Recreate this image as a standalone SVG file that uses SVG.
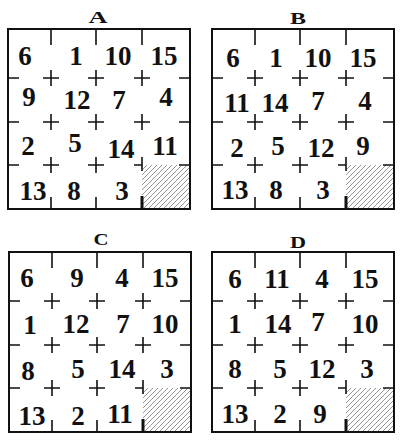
<svg xmlns="http://www.w3.org/2000/svg" xmlns:xlink="http://www.w3.org/1999/xlink" width="400" height="445" viewBox="0 0 400 445">
<style>
.n{font-family:"Liberation Serif","DejaVu Serif",serif;font-size:27px;font-weight:bold;fill:#111;text-anchor:middle}
.t{font-family:"Liberation Serif","DejaVu Serif",serif;font-size:16px;font-weight:bold;fill:#111;text-anchor:middle}
.b{fill:none;stroke:#111;stroke-width:2}
.k{stroke:#111;stroke-width:1.6;fill:none}
.h{fill:url(#hatch);stroke:none}
</style>
<defs>
<pattern id="hatch" patternUnits="userSpaceOnUse" width="5" height="5">
<path d="M-1,1 L1,-1 M0,5 L5,0 M4,6 L6,4" stroke="#888" stroke-width="0.9"/>
</pattern>
<g id="grid">
<rect class="h" x="134" y="136" width="48" height="44"/>
<rect class="b" x="0" y="0" width="182" height="180"/>
<path class="k" d="M43,0 v16 M88,0 v16 M134,0 v16 M43,180 v-12 M88,180 v-12 M0,49 h11 M0,93 h11 M0,136 h11 M182,49 h-11 M182,93 h-11 M182,136 h-11"/>
<path d="M134,180 v-13" stroke="#111" stroke-width="3"/>
<path class="k" d="M35,49 h16 M43,41 v16 M80,49 h16 M88,41 v16 M126,49 h16 M134,41 v16 M35,93 h16 M43,85 v16 M80,93 h16 M88,85 v16 M126,93 h16 M134,85 v16 M35,136 h16 M43,128 v16 M80,136 h16 M88,128 v16 M126,136 h8 M134,128 v14"/>
</g>
</defs>
<g id="square-a">
<text class="t" x="98" y="23" textLength="19" lengthAdjust="spacingAndGlyphs">A</text>
<use xlink:href="#grid" x="8" y="29"/>
<text class="n" x="25" y="65">6</text><text class="n" x="76" y="65">1</text><text class="n" x="118" y="65">10</text><text class="n" x="164" y="65">15</text>
<text class="n" x="29" y="106">9</text><text class="n" x="77" y="109">12</text><text class="n" x="119" y="109">7</text><text class="n" x="166" y="106">4</text>
<text class="n" x="28" y="155">2</text><text class="n" x="75" y="152">5</text><text class="n" x="121" y="158">14</text><text class="n" x="165" y="155">11</text>
<text class="n" x="33" y="200">13</text><text class="n" x="74" y="200">8</text><text class="n" x="122" y="200">3</text>
</g>
<g id="square-b">
<text class="t" x="298" y="24" textLength="16" lengthAdjust="spacingAndGlyphs">B</text>
<use xlink:href="#grid" x="212" y="29"/>
<text class="n" x="233" y="67">6</text><text class="n" x="276" y="67">1</text><text class="n" x="318" y="67">10</text><text class="n" x="363" y="67">15</text>
<text class="n" x="237" y="112">11</text><text class="n" x="275" y="112">14</text><text class="n" x="318" y="110">7</text><text class="n" x="365" y="110">4</text>
<text class="n" x="237" y="157">2</text><text class="n" x="278" y="155">5</text><text class="n" x="321" y="157">12</text><text class="n" x="363" y="155">9</text>
<text class="n" x="235" y="199">13</text><text class="n" x="276" y="199">8</text><text class="n" x="323" y="199">3</text>
</g>
<g id="square-c">
<text class="t" x="101" y="245" textLength="15" lengthAdjust="spacingAndGlyphs">C</text>
<use xlink:href="#grid" x="9" y="252"/>
<text class="n" x="27" y="287">6</text><text class="n" x="77" y="287">9</text><text class="n" x="122" y="287">4</text><text class="n" x="165" y="287">15</text>
<text class="n" x="30" y="334">1</text><text class="n" x="76" y="333">12</text><text class="n" x="123" y="333">7</text><text class="n" x="165" y="333">10</text>
<text class="n" x="28" y="380">8</text><text class="n" x="78" y="378">5</text><text class="n" x="122" y="378">14</text><text class="n" x="167" y="378">3</text>
<text class="n" x="32" y="425">13</text><text class="n" x="78" y="425">2</text><text class="n" x="120" y="423">11</text>
</g>
<g id="square-d">
<text class="t" x="298" y="248" textLength="16" lengthAdjust="spacingAndGlyphs">D</text>
<use xlink:href="#grid" x="212" y="252"/>
<text class="n" x="235" y="288">6</text><text class="n" x="277" y="288">11</text><text class="n" x="322" y="288">4</text><text class="n" x="365" y="288">15</text>
<text class="n" x="235" y="333">1</text><text class="n" x="278" y="333">14</text><text class="n" x="318" y="331">7</text><text class="n" x="365" y="333">10</text>
<text class="n" x="235" y="378">8</text><text class="n" x="280" y="378">5</text><text class="n" x="322" y="378">12</text><text class="n" x="367" y="378">3</text>
<text class="n" x="235" y="423">13</text><text class="n" x="280" y="423">2</text><text class="n" x="320" y="423">9</text>
</g>
<g id="connectors"/>
</svg>
